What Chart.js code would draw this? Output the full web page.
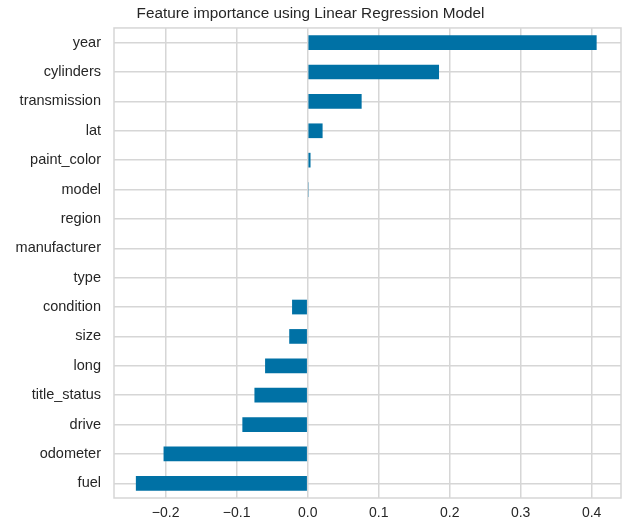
<!DOCTYPE html>
<html>
<head>
<meta charset="utf-8">
<script src="https://cdn.jsdelivr.net/npm/chart.js@4/dist/chart.umd.min.js"></script>
<style>
  html, body { margin: 0; padding: 0; background: #fff; }
  #wrap { width: 624px; height: 526px; }
</style>
</head>
<body>
<div id="wrap"><canvas id="chart" width="624" height="526"></canvas></div>
<script>
const features = ['year', 'cylinders', 'transmission', 'lat', 'paint_color', 'model', 'region',
    'manufacturer', 'type', 'condition', 'size', 'long', 'title_status', 'drive', 'odometer', 'fuel'];
const importance = [0.407, 0.185, 0.076, 0.021, 0.004, 0.0015, 0, 0, 0,
    -0.022, -0.026, -0.060, -0.075, -0.092, -0.203, -0.242];
const xTicks = [-0.2, -0.1, 0.0, 0.1, 0.2, 0.3, 0.4];

const textColor = '#262626';
const gridColor = '#d6d6d6';

// box around the plot area, like the matplotlib frame
const frame = {
    id: 'frame',
    beforeDatasetsDraw(chart) {
        const a = chart.chartArea;
        const c = chart.ctx;
        c.save();
        c.strokeStyle = gridColor;
        c.lineWidth = 1.5;
        c.strokeRect(a.left, a.top, a.right - a.left, a.bottom - a.top);
        c.restore();
    }
};

const ctx = document.getElementById('chart').getContext('2d');
new Chart(ctx, {
    type: 'bar',
    data: {
        labels: features,
        datasets: [{
            data: importance,
            backgroundColor: '#0071A5',
            barPercentage: 0.5,
            categoryPercentage: 1.0
        }]
    },
    options: {
        indexAxis: 'y',
        responsive: false,
        animation: false,
        layout: { padding: { right: 3 } },
        plugins: {
            legend: { display: false },
            tooltip: { enabled: false },
            title: {
                display: true,
                text: 'Feature importance using Linear Regression Model',
                color: textColor,
                font: { family: 'Liberation Sans, Arial, sans-serif', size: 15.3, weight: 'normal' },
                padding: { top: 5, bottom: 4.6 }
            }
        },
        scales: {
            x: {
                type: 'linear',
                min: -0.2728,
                max: 0.4413,
                afterBuildTicks(scale) {
                    scale.ticks = xTicks.map(v => ({ value: v }));
                },
                afterFit(scale) { scale.height = 28; },
                grid: { color: gridColor, lineWidth: 1.5, drawTicks: false },
                border: { display: false },
                ticks: {
                    color: textColor,
                    padding: 7,
                    font: { family: 'Liberation Sans, Arial, sans-serif', size: 14 },
                    callback: v => v.toFixed(1).replace('-', '\u2212')
                }
            },
            y: {
                afterFit(scale) { scale.width = 114; },
                grid: { color: gridColor, lineWidth: 1.5, drawTicks: false, offset: false },
                border: { display: false },
                ticks: {
                    color: textColor,
                    padding: 13,
                    font: { family: 'Liberation Sans, Arial, sans-serif', size: 14.5 }
                }
            }
        }
    },
    plugins: [frame]
});
</script>
</body>
</html>
